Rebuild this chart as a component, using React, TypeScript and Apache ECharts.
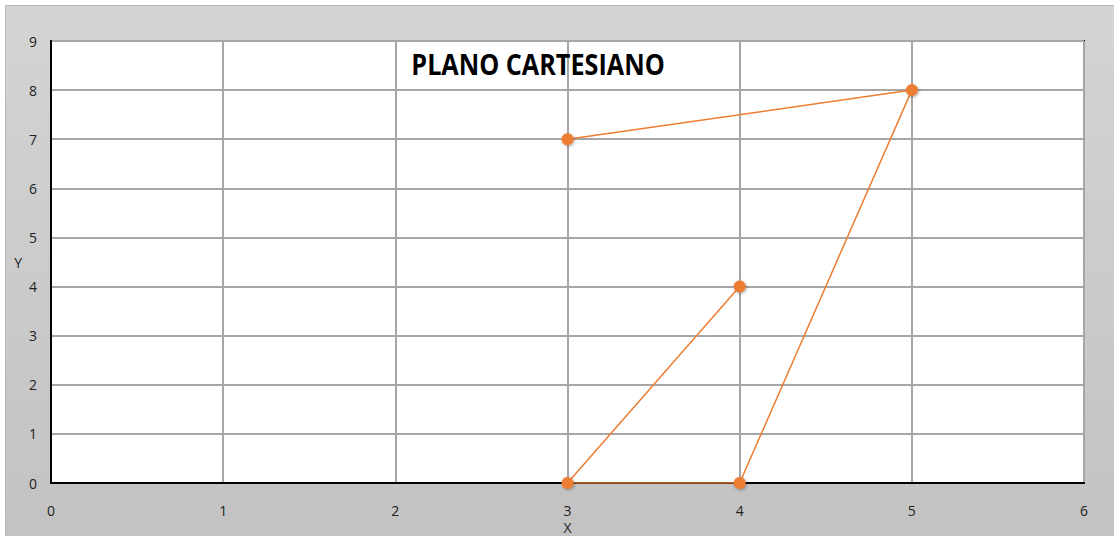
import React, { useEffect, useRef } from "react";
import * as echarts from "echarts";

const xValues = [3, 5, 4, 3, 4];
const yValues = [7, 8, 0, 0, 4];
const titleText = "PLANO CARTESIANO";
const xName = "X";
const yName = "Y";

export default function App() {
  const ref = useRef<HTMLDivElement>(null);
  useEffect(() => {
    const chart = echarts.init(ref.current!, null, { renderer: "svg" });
    const data = xValues.map((x, i) => [x, yValues[i]]);
    chart.setOption({
      animation: false,
      graphic: [
        {
          type: "rect",
          z: -10,
          shape: { x: 5.5, y: 5.5, width: 1120, height: 540 },
          style: {
            fill: new echarts.graphic.LinearGradient(0, 0, 0, 1, [
              { offset: 0, color: "#d4d4d4" },
              { offset: 1, color: "#c2c2c2" },
            ]),
            stroke: "#b8b8b8",
            lineWidth: 1,
          },
        },
        {
          type: "text",
          x: 538,
          y: 64,
          scaleX: 0.9,
          z: 10,
          style: {
            text: titleText,
            fontFamily: "Open Sans",
            fontWeight: "bold",
            fontSize: 28,
            fill: "#000",
            textAlign: "center",
            textVerticalAlign: "middle",
          },
        },
      ],
      grid: {
        left: 51,
        top: 41,
        right: 30,
        bottom: 53,
        outerBoundsMode: "none",
        show: true,
        backgroundColor: "#ffffff",
        borderColor: "#000",
        borderWidth: 2,
      },
      xAxis: {
        type: "value",
        min: 0,
        max: 6,
        interval: 1,
        name: xName,
        nameLocation: "middle",
        nameGap: 38,
        nameMoveOverlap: false,
        nameTextStyle: { fontFamily: "Open Sans", fontSize: 14, lineHeight: 13, color: "#222" },
        axisLine: { show: true, lineStyle: { color: "#000", width: 2 } },
        axisTick: { show: false },
        axisLabel: { margin: 20, fontFamily: "Open Sans", fontSize: 14, lineHeight: 14, color: "#222" },
        splitLine: { show: true, lineStyle: { color: "#a6a6a6", width: 2 } },
      },
      yAxis: {
        type: "value",
        min: 0,
        max: 9,
        interval: 1,
        name: yName,
        nameLocation: "middle",
        nameRotate: 0,
        nameGap: 29,
        nameTextStyle: { fontFamily: "Open Sans", fontSize: 14, color: "#222", padding: [6, 0, 0, 0] },
        axisLine: { show: true, lineStyle: { color: "#000", width: 2 } },
        axisTick: { show: false },
        axisLabel: { margin: 14, fontFamily: "Open Sans", fontSize: 14, color: "#222" },
        splitLine: { show: true, lineStyle: { color: "#a6a6a6", width: 2 } },
      },
      series: [
        {
          type: "line",
          data,
          symbol: "circle",
          symbolSize: 12,
          lineStyle: { color: "#ED7D31", width: 1.5 },
          itemStyle: {
            color: "#ED7D31",
            shadowColor: "rgba(0,0,0,0.35)",
            shadowBlur: 3,
            shadowOffsetX: 1,
            shadowOffsetY: 1,
          },
        },
      ],
    });
    return () => chart.dispose();
  }, []);
  return (
    <div
      ref={ref}
      style={{ position: "absolute", left: 0, top: 0, width: 1114, height: 536 }}
    />
  );
}
